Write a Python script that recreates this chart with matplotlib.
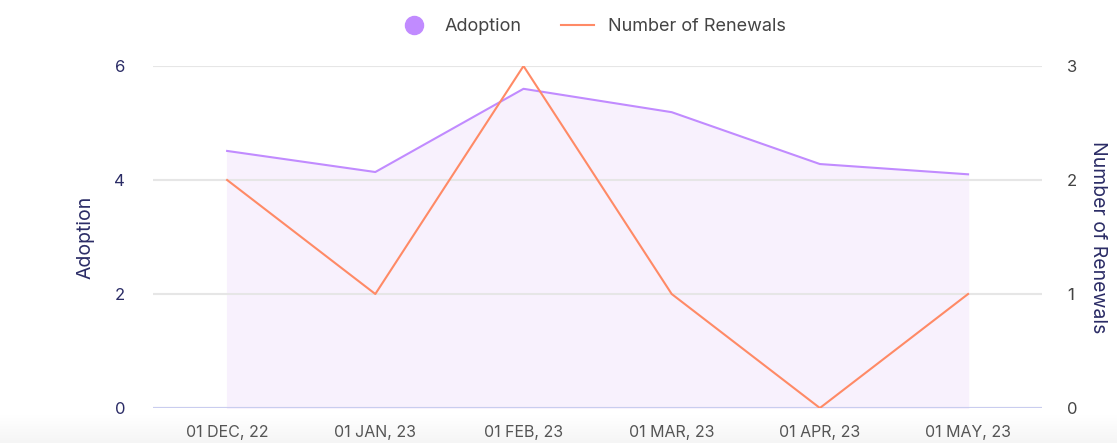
import numpy as np
import matplotlib.pyplot as plt
from matplotlib.lines import Line2D

months = ['01 DEC, 22', '01 JAN, 23', '01 FEB, 23', '01 MAR, 23', '01 APR, 23', '01 MAY, 23']
adoption = [4.51, 4.14, 5.6, 5.19, 4.28, 4.10]
renewals = [2, 1, 3, 1, 0, 1]

plt.rcParams['font.family'] = ['Inter', 'DejaVu Sans']

purple = '#c18bff'
orange = '#ff8a66'
navy = '#2b2c66'

fig = plt.figure(figsize=(11.17, 4.43), dpi=100)

# grey fade at the bottom
bg = fig.add_axes([0, 0, 1, 0.065], zorder=-5)
grad = np.linspace(0, 1, 50).reshape(-1, 1)
bg.imshow(grad, aspect='auto', cmap='Greys', vmin=0, vmax=12, extent=[0, 1, 0, 1], origin='upper')
bg.axis('off')

ax = fig.add_axes([0.137, 0.079, 0.796, 0.772])
ax.patch.set_alpha(0)
x = np.arange(len(months))

ax.fill_between(x, adoption, 0, color='#f8f1fd', zorder=1)
ax.plot(x, adoption, color=purple, lw=1.5, zorder=3)
ax.set_xlim(-0.5, 5.5)
ax.set_ylim(0, 6)
ax.set_yticks([0, 2, 4, 6])
ax.set_xticks(x)
ax.set_xticklabels(months)
ax.grid(axis='y', color='#e6e6e6', lw=1.5, zorder=0)
ax.axhline(0, color='#c9cdef', lw=1.5, zorder=2)
for s in ax.spines.values():
    s.set_visible(False)
ax.tick_params(axis='y', length=0, pad=20, labelsize=12, labelcolor=navy)
ax.tick_params(axis='x', length=0, pad=12, labelsize=11.5, labelcolor='#555555')
ax.set_ylabel('Adoption', fontsize=14, color=navy)
ax.yaxis.set_label_coords(-0.066, 0.5)

ax2 = ax.twinx()
ax2.plot(x, renewals, color=orange, lw=1.5, zorder=4)
ax2.set_ylim(0, 3)
ax2.set_yticks([0, 1, 2, 3])
for s in ax2.spines.values():
    s.set_visible(False)
ax2.tick_params(axis='y', length=0, pad=18, labelsize=12, labelcolor='#444444')
ax2.set_ylabel('Number of Renewals', fontsize=14, color=navy, rotation=-90, va='center')
ax2.yaxis.set_label_coords(1.063, 0.5)

handles = [
    Line2D([], [], marker='o', ls='none', color=purple, markersize=13),
    Line2D([], [], color=orange, lw=1.5),
]
fig.legend(handles, ['Adoption', 'Number of Renewals'], loc='upper center',
           bbox_to_anchor=(0.53, 0.995), ncol=2, frameon=False, fontsize=13,
           labelcolor='#444444', handlelength=1.8, columnspacing=2.2)

fig.savefig('out.png', dpi=100)
